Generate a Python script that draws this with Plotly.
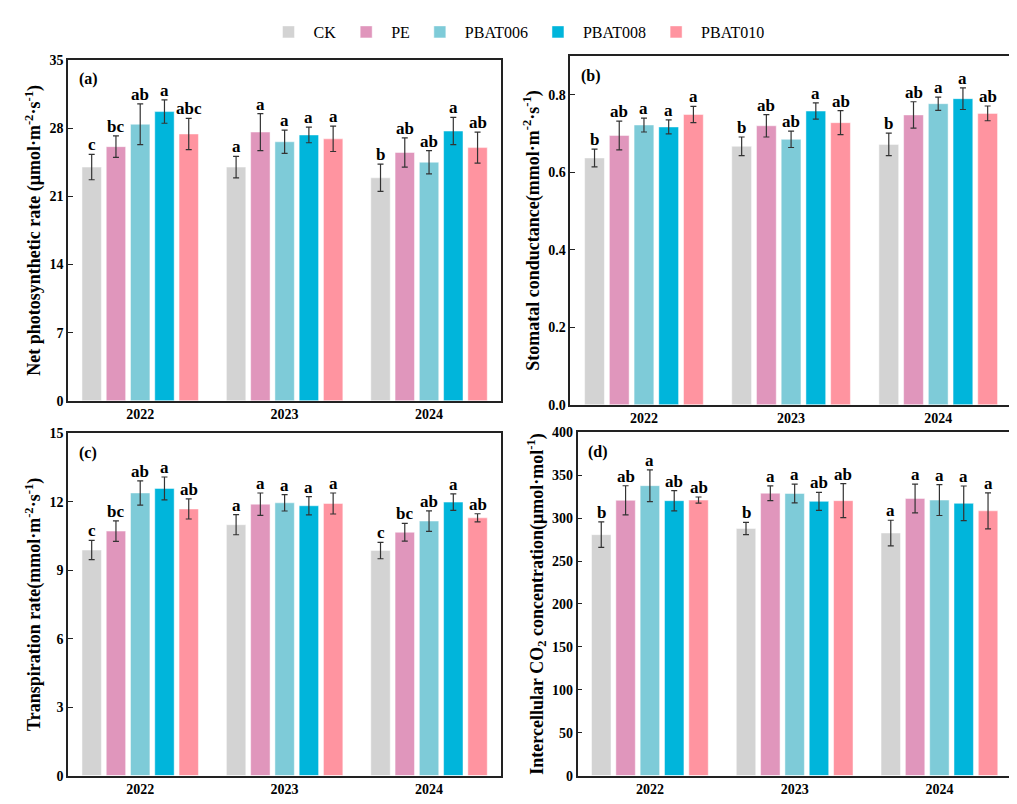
import plotly.graph_objects as go

YEARS = ['2022', '2023', '2024']
TREATMENTS = ['CK', 'PE', 'PBAT006', 'PBAT008', 'PBAT010']
COLORS = ['#D3D3D3', '#E096BC', '#7ECBD8', '#00B5DB', '#FF94A0']

# (a) net photosynthetic rate, per treatment: values for 2022, 2023, 2024
pn_mean = [[24.0, 24.0, 22.9], [26.1, 27.6, 25.5], [28.4, 26.6, 24.5], [29.7, 27.3, 27.7], [27.4, 26.9, 26.0]]
pn_err = [[1.3, 1.1, 1.4], [1.1, 1.9, 1.5], [2.1, 1.2, 1.2], [1.2, 0.8, 1.4], [1.6, 1.3, 1.6]]
pn_sig = [['c', 'a', 'b'], ['bc', 'a', 'ab'], ['ab', 'a', 'ab'], ['a', 'a', 'a'], ['abc', 'a', 'ab']]

# (b) stomatal conductance
gs_mean = [[0.637, 0.667, 0.672], [0.695, 0.720, 0.748], [0.722, 0.685, 0.777], [0.717, 0.758, 0.790], [0.749, 0.728, 0.752]]
gs_err = [[0.023, 0.024, 0.029], [0.037, 0.029, 0.034], [0.018, 0.021, 0.017], [0.018, 0.021, 0.028], [0.021, 0.031, 0.019]]
gs_sig = [['b', 'b', 'b'], ['ab', 'ab', 'ab'], ['a', 'ab', 'a'], ['a', 'a', 'a'], ['a', 'ab', 'ab']]

# (c) transpiration rate
tr_mean = [[9.88, 10.99, 9.86], [10.71, 11.89, 10.66], [12.38, 11.95, 11.15], [12.58, 11.82, 11.98], [11.68, 11.92, 11.29]]
tr_err = [[0.42, 0.44, 0.36], [0.45, 0.49, 0.39], [0.53, 0.36, 0.45], [0.50, 0.40, 0.36], [0.44, 0.46, 0.18]]
tr_sig = [['c', 'a', 'c'], ['bc', 'a', 'bc'], ['ab', 'a', 'ab'], ['a', 'a', 'a'], ['ab', 'a', 'ab']]

# (d) intercellular CO2 concentration
ci_mean = [[280.8, 288.0, 282.7], [320.8, 329.1, 323.0], [337.9, 328.8, 321.1], [320.4, 319.6, 317.3], [321.1, 320.4, 308.6]]
ci_err = [[14.9, 7.2, 14.9], [17.0, 8.6, 16.8], [18.5, 10.9, 18.0], [11.8, 10.5, 20.2], [3.6, 19.8, 21.0]]
ci_sig = [['b', 'b', 'a'], ['ab', 'a', 'a'], ['a', 'a', 'a'], ['ab', 'ab', 'a'], ['ab', 'ab', 'a']]

FONT = 'Times New Roman, Liberation Serif, serif'
BARGAP = 0.16

panels = [
    dict(mean=pn_mean, err=pn_err, sig=pn_sig, label='(a)', rng=[0, 35], dtick=7,
         title='Net photosynthetic rate (μmol·m<sup>-2</sup>·s<sup>-1</sup>)',
         xdom=[0.059, 0.485], ydom=[0.511, 0.943], fmt=''),
    dict(mean=gs_mean, err=gs_err, sig=gs_sig, label='(b)', rng=[0, 0.9], dtick=0.2,
         title='Stomatal conductance(mmol·m<sup>-2</sup>·s<sup>-1</sup>)',
         xdom=[0.553, 0.987], ydom=[0.506, 0.948], fmt='.1f'),
    dict(mean=tr_mean, err=tr_err, sig=tr_sig, label='(c)', rng=[0, 15], dtick=3,
         title='Transpiration rate(mmol·m<sup>-2</sup>·s<sup>-1</sup>)',
         xdom=[0.059, 0.485], ydom=[0.036, 0.470], fmt=''),
    dict(mean=ci_mean, err=ci_err, sig=ci_sig, label='(d)', rng=[0, 400], dtick=50,
         title='Intercellular CO<sub>2</sub> concentration(μmol·mol<sup>-1</sup>)',
         xdom=[0.560, 0.987], ydom=[0.036, 0.471], fmt=''),
]

fig = go.Figure()
annotations = []
xpos = list(range(len(YEARS)))
slot = (1 - BARGAP) / len(TREATMENTS)

for p_i, p in enumerate(panels):
    sfx = '' if p_i == 0 else str(p_i + 1)
    for j, name in enumerate(TREATMENTS):
        fig.add_trace(go.Bar(
            x=xpos, y=p['mean'][j], name=name, showlegend=(p_i == 0),
            legendgroup=name, marker_color=COLORS[j],
            marker_line=dict(color='rgba(255,255,255,0.6)', width=0.8),
            error_y=dict(type='data', array=p['err'][j], color='#333333', thickness=1.2, width=3),
            xaxis='x' + sfx, yaxis='y' + sfx,
        ))
        for k in xpos:
            annotations.append(dict(
                x=k + (j - 2) * slot, y=p['mean'][j][k] + p['err'][j][k],
                xref='x' + sfx, yref='y' + sfx, text=p['sig'][j][k], showarrow=False,
                yanchor='bottom', yshift=-2,
                font=dict(family=FONT, size=17, color='black', weight='bold'),
            ))
    annotations.append(dict(
        x=0.02, y=0.975, xref='x' + sfx + ' domain', yref='y' + sfx + ' domain',
        text=p['label'], showarrow=False, xanchor='left', yanchor='top',
        font=dict(family=FONT, size=16, color='black', weight='bold'),
    ))
    fig.update_layout({
        'xaxis' + sfx: dict(
            domain=p['xdom'], anchor='y' + sfx, range=[-0.5, 2.5],
            tickmode='array', tickvals=xpos, ticktext=YEARS, ticks='',
            showline=True, linecolor='#222222', linewidth=1.5, mirror=True,
            showgrid=False, zeroline=False,
            tickfont=dict(family=FONT, size=14, color='black', weight='bold'),
        ),
        'yaxis' + sfx: dict(
            domain=p['ydom'], anchor='x' + sfx, range=p['rng'], dtick=p['dtick'],
            tickformat=p['fmt'], ticks='inside', ticklen=5, tickcolor='#222222',
            showline=True, linecolor='#222222', linewidth=1.5, mirror=True,
            showgrid=False, zeroline=False,
            tickfont=dict(family=FONT, size=14, color='black', weight='bold'),
            title=dict(text=p['title'], standoff=4,
                       font=dict(family=FONT, size=18, color='black', weight='bold')),
        ),
    })

fig.update_layout(
    width=1017, height=804,
    margin=dict(l=0, r=0, t=0, b=0),
    paper_bgcolor='white', plot_bgcolor='white',
    barmode='group', bargap=BARGAP, bargroupgap=0.2,
    legend=dict(orientation='h', x=0.5, xanchor='center', y=1.0, yanchor='top',
                font=dict(family=FONT, size=16, color='black'),
                itemwidth=40, tracegroupgap=0),
    annotations=annotations,
    font=dict(family=FONT),
)

fig.write_html('out.html')
